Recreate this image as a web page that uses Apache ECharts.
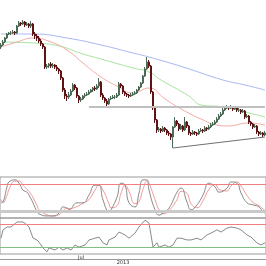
<!DOCTYPE html>
<html><head><meta charset="utf-8">
<script src="https://cdn.jsdelivr.net/npm/echarts@6/dist/echarts.min.js"></script>
<style>html,body{margin:0;padding:0;background:#fff}#c{width:266px;height:266px}</style>
</head><body><div id="c"></div>
<script>
// candles: [open, close, low, high]
const candles = [
[128,130,126,132],[130,133,129,135],[133,137,132,138],[137,141,136,142],[141,142,140,143],
[142,142,140,144],[142,143,141,145],[143,142,140,144],[142,149,141,150],[149,152,148,154],
[152,151,149,153],[151,153,150,155],[153,150,148,154],[150,151,149,153],[151,149,147,152],
[149,151,147,154],[151,141,139,152],[141,139,136,143],[139,137,134,141],[137,134,132,139],
[134,131,129,136],[131,128,126,132],[128,108,106,129],[108,109,106,111],[109,111,107,112],
[111,109,107,113],[109,110,107,112],[110,108,106,111],[108,106,104,110],[106,104,101,107],
[104,97,95,105],[97,85,83,98],[85,79,76,87],[79,78,74,81],[78,80,76,83],
[80,84,79,86],[84,90,83,92],[90,87,85,91],[87,79,77,88],[79,75,72,80],
[75,76,73,78],[76,79,75,80],[79,80,77,82],[80,81,79,83],[81,83,80,85],
[83,85,82,86],[85,87,83,88],[87,86,84,89],[86,89,85,91],[89,93,87,97],
[93,80,78,94],[80,77,75,82],[77,74,72,78],[74,71,68,76],[71,76,70,77],
[76,77,75,79],[77,78,76,80],[78,78,76,80],[78,80,77,82],[80,91,79,93],
[91,89,87,92],[89,83,81,90],[83,81,79,84],[81,80,78,82],[80,79,77,81],
[79,80,78,82],[80,81,79,83],[81,82,80,84],[82,85,81,86],[85,88,84,89],
[88,92,87,93],[92,99,91,100],[99,106,98,108],[106,113,105,118],[113,109,107,115],
[109,83,81,110],[83,67,65,84],[67,55,52,68],[55,45,42,56],[45,46,43,48],
[46,44,42,47],[44,47,43,49],[47,45,43,48],[45,42,40,46],[42,41,39,44],
[41,38,35,42],[38,48,27,49],[48,54,47,58],[54,51,49,55],[51,46,44,52],
[46,49,45,51],[49,45,43,50],[45,53,44,58],[53,49,47,54],[49,42,40,50],
[42,41,39,43],[41,43,40,45],[43,42,40,44],[42,41,39,43],[41,44,40,46],
[44,45,43,47],[45,44,42,46],[44,47,43,49],[47,46,44,48],[46,48,45,50],
[48,50,47,52],[50,51,49,53],[51,53,50,55],[53,56,52,58],[56,59,55,61],
[59,61,58,63],[61,65,60,67],[65,67,64,69],[67,68,66,70],[68,67,65,69],
[67,68,66,70],[68,66,64,69],[66,67,65,69],[67,65,63,68],[65,65,63,67],
[65,63,61,66],[63,64,62,66],[64,58,56,65],[58,59,57,61],[59,53,51,60],
[53,51,49,54],[51,48,46,52],[48,49,47,51],[49,43,41,50],[43,41,39,44],
[41,42,40,44],[42,40,38,43],[40,42,39,44]
];
const categories = candles.map((_, i) => String(i));

// moving averages: [candle index, value]
const maRed = [[0,128],[8,133],[16,137],[25,133],[33,125],[41,112],[50,98],[58,89],[66,82],[74,87],[82,76],[91,65],[100,56],[108,50],[113,49],[124,52],[132,50]];
const maGreen = [[0,133],[16,132],[29,129],[41,121],[50,116],[66,107],[74,103],[80,95],[94,79],[100,70],[111,68],[124,62],[132,58]];
const maBlue = [[0,141],[16,141],[33,137],[50,130],[66,122],[74,118],[91,108],[111,95],[122,90],[132,85]];

// support / trend lines
const supportLevel = 68, supportFrom = 44, supportTo = 132;
const trendLine = [[86,27],[132,38]];

// stochastic
const stochK = [[0,37],[1,39],[3,76],[4,88],[7,93],[9,85],[11,68],[13,63],[14,56],[16,37],[18,15],[19,10],[23,5],[26,5],[29,12],[31,27],[33,24],[34,20],[38,37],[41,37],[44,56],[47,80],[49,80],[51,44],[54,17],[55,20],[58,51],[60,85],[62,80],[64,37],[67,27],[69,61],[71,93],[73,93],[74,68],[77,20],[79,7],[81,12],[84,24],[88,63],[90,73],[93,39],[95,20],[98,32],[101,56],[104,85],[107,76],[109,63],[113,73],[115,88],[118,85],[120,61],[123,37],[126,32],[129,27],[131,15],[132,12]];
const stochD = [[0,45],[1,38],[3,55],[4,70],[7,90],[9,90],[11,80],[13,70],[14,65],[16,50],[18,30],[19,20],[23,8],[26,5],[29,8],[31,18],[33,24],[34,23],[38,28],[41,36],[44,45],[47,68],[49,80],[51,68],[54,35],[55,25],[58,30],[60,60],[62,80],[64,65],[67,35],[69,40],[71,70],[73,90],[74,85],[77,45],[79,20],[81,10],[84,18],[88,45],[90,65],[93,60],[95,35],[98,25],[101,42],[104,70],[107,82],[109,70],[113,66],[115,78],[118,88],[120,78],[123,55],[126,38],[129,30],[131,22],[132,18]];
const stochLevels = [83, 17];

// oscillator
const osc = [[0,44],[1,67],[3,75],[5,75],[8,89],[9,86],[11,89],[13,81],[14,75],[16,44],[18,39],[19,33],[21,17],[23,6],[24,17],[27,11],[29,19],[31,11],[33,17],[35,11],[37,25],[39,19],[42,25],[44,39],[47,44],[49,47],[51,31],[53,25],[54,39],[57,47],[59,61],[62,53],[64,44],[67,58],[69,75],[72,94],[74,86],[75,53],[76,19],[78,31],[79,19],[82,25],[84,19],[86,25],[88,44],[90,44],[93,39],[95,39],[98,44],[100,39],[103,53],[105,58],[108,67],[110,61],[113,72],[115,75],[118,72],[120,67],[123,53],[125,47],[128,31],[130,25],[132,31]];
const oscLevels = [83, 19];

// time labels
const monthTicks = {40: 'Jul'};
const yearTicks = {61: '2013'};

const chart = echarts.init(document.getElementById('c'), null, {renderer: 'canvas'});
const hiddenY = (gi, min, max) => ({type:'value', gridIndex:gi, min:min, max:max, show:false, splitLine:{show:false}});
const catX = (gi, extra) => Object.assign({type:'category', gridIndex:gi, data:categories, boundaryGap:true, position:'bottom',
  axisLine:{show:false}, axisTick:{show:false}, axisLabel:{show:false}, splitLine:{show:false}}, extra || {});
const lvl = (v, color, w) => ({yAxis: v, lineStyle:{color:color, width:w, type:'solid'}});

chart.setOption({
  animation: false,
  backgroundColor: '#fff',
  grid: [
    {left:0, right:0, top:0, height:175},
    {left:0, right:0, top:177, height:41, show:true, borderColor:'#9a9a9a', borderWidth:1},
    {left:0, right:0, top:218, height:36, show:true, borderColor:'#9a9a9a', borderWidth:1}
  ],
  xAxis: [
    catX(0), catX(1),
    catX(2, {axisLabel:{show:true, margin:1, fontSize:5, color:'#333', fontFamily:'DejaVu Sans',
      interval:(i)=>monthTicks[i]!==undefined, formatter:(v,i)=>monthTicks[i]||''}}),
    catX(2, {offset:5, axisLine:{show:true, onZero:false, lineStyle:{color:'#9a9a9a', width:1}},
      axisLabel:{show:true, margin:1, fontSize:5, color:'#333', fontFamily:'DejaVu Sans',
      interval:(i)=>yearTicks[i]!==undefined, formatter:(v,i)=>yearTicks[i]||''}})
  ],
  yAxis: [hiddenY(0,0,175), hiddenY(1,0,100), hiddenY(2,0,100)],
  series: [
    {type:'line', xAxisIndex:0, yAxisIndex:0, data:maBlue, smooth:true, symbol:'none', lineStyle:{color:'#a9b8f2', width:1}, z:1},
    {type:'line', xAxisIndex:0, yAxisIndex:0, data:maGreen, smooth:true, symbol:'none', lineStyle:{color:'#a8e4a0', width:1}, z:1},
    {type:'line', xAxisIndex:0, yAxisIndex:0, data:maRed, smooth:true, symbol:'none', lineStyle:{color:'#f5aaa6', width:1}, z:1},
    {type:'candlestick', xAxisIndex:0, yAxisIndex:0, data:candles, barWidth:'70%', z:3,
      itemStyle:{color:'#7ea58a', color0:'#8e1f1f', borderColor:'#4d6a57', borderColor0:'#5e1414', borderWidth:1},
      markLine:{silent:true, symbol:'none', label:{show:false}, data:[
        [{coord:[categories[supportFrom], supportLevel], lineStyle:{color:'#c0c0c0', width:2, type:'solid'}}, {coord:[categories[supportTo], supportLevel]}],
        [{coord:[categories[trendLine[0][0]], trendLine[0][1]], lineStyle:{color:'#707070', width:1, type:'solid'}}, {coord:[categories[trendLine[1][0]], trendLine[1][1]]}]
      ]}},
    {type:'line', xAxisIndex:1, yAxisIndex:1, data:stochD, smooth:true, symbol:'none', lineStyle:{color:'#f29a9a', width:1}, z:2,
      markLine:{silent:true, symbol:'none', label:{show:false}, data:[lvl(stochLevels[0], '#f07f7f', 1), lvl(stochLevels[1], '#cacaca', 3)]}},
    {type:'line', xAxisIndex:1, yAxisIndex:1, data:stochK, smooth:true, symbol:'none', lineStyle:{color:'#8a8a8a', width:1}, z:3},
    {type:'line', xAxisIndex:2, yAxisIndex:2, data:osc, symbol:'none', lineStyle:{color:'#8a8a8a', width:1}, z:3,
      markLine:{silent:true, symbol:'none', label:{show:false}, data:[lvl(oscLevels[0], '#f07f7f', 1), lvl(oscLevels[1], '#7fc27f', 1)]}}
  ]
});
</script>
</body></html>
